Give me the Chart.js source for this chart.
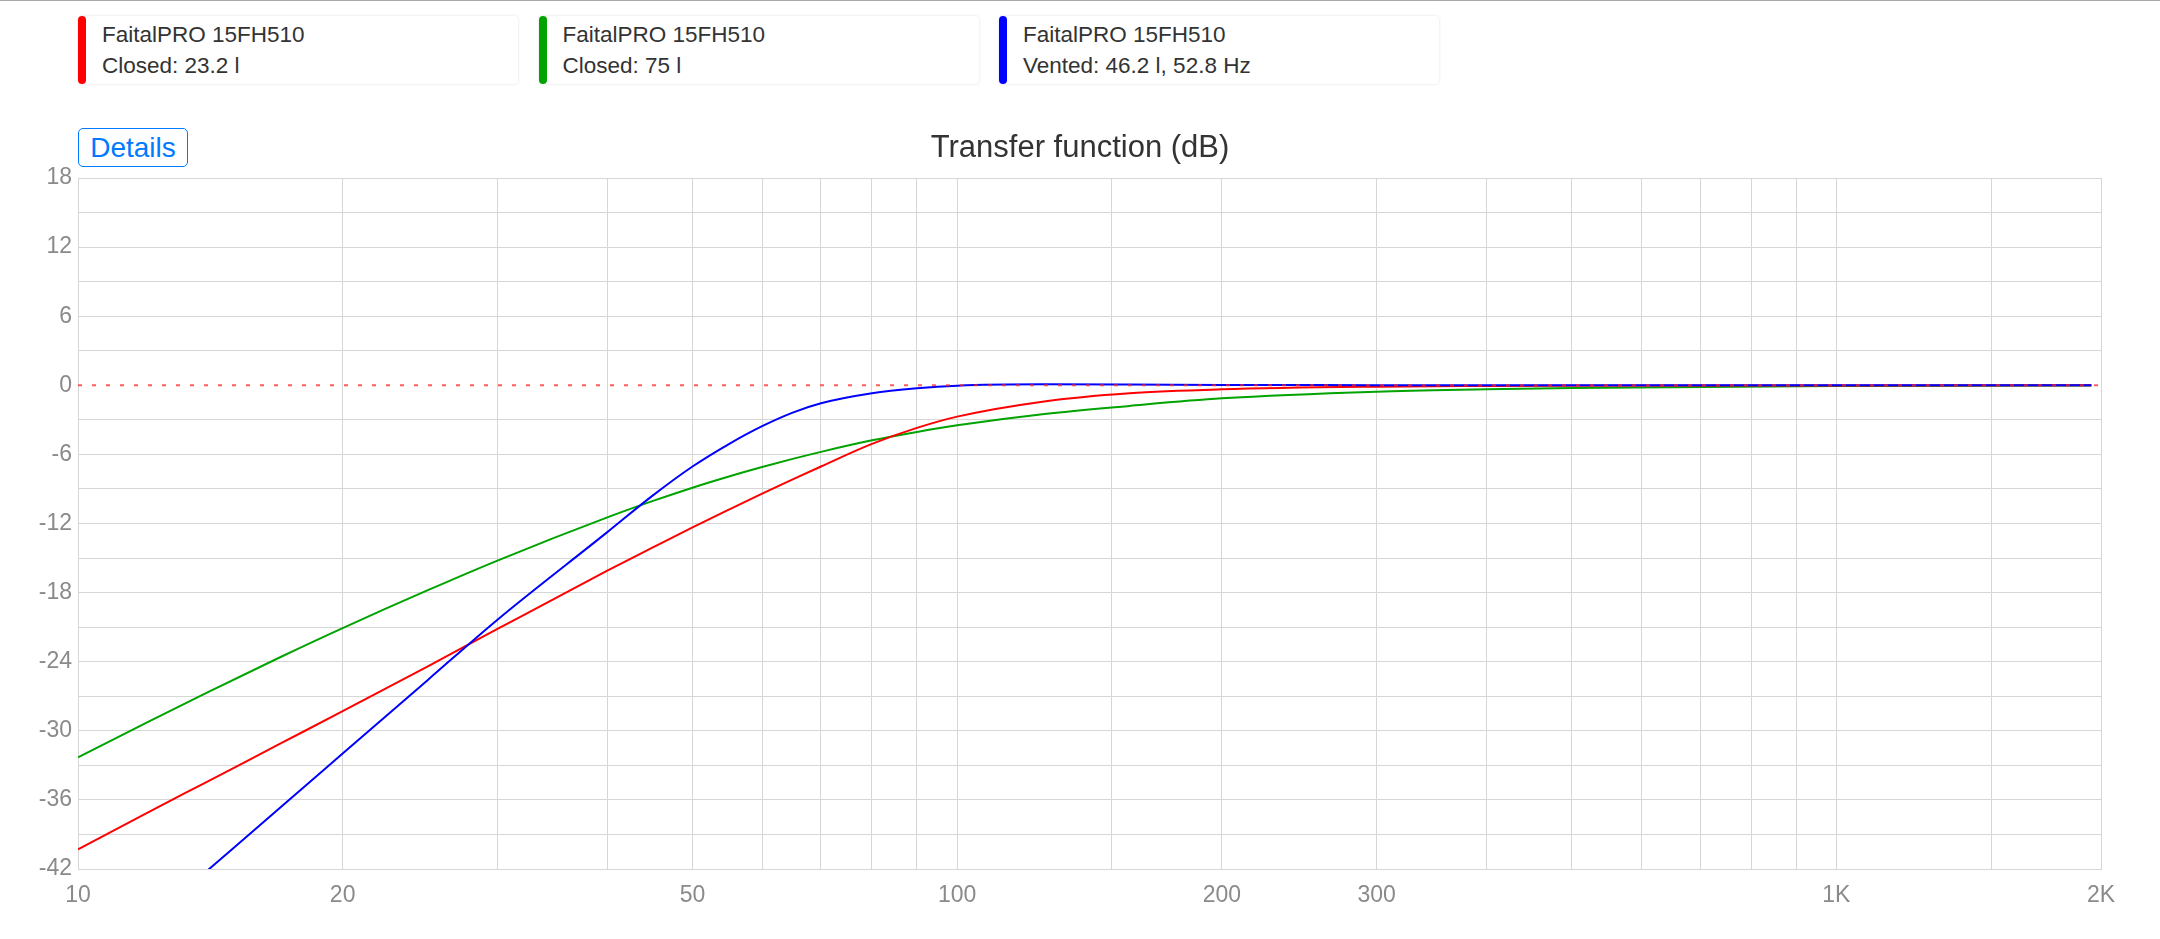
<!DOCTYPE html>
<html>
<head>
<meta charset="utf-8">
<title>Transfer function</title>
<script src="https://cdn.jsdelivr.net/npm/chart.js@4.4.1/dist/chart.umd.min.js"></script>
<style>
  html, body { margin: 0; padding: 0; background: #fff; }
  body { width: 2160px; height: 939px; position: relative; overflow: hidden;
         font-family: 'Liberation Sans', Arial, sans-serif; }
  #topline { position: absolute; left: 0; top: 0; width: 2160px; height: 1px; background: #aaaaaa; }
  .card { position: absolute; top: 16px; width: 440px; height: 68px; background: #fff;
          border-radius: 4px; box-shadow: 0 0 3px rgba(0,0,0,0.13); }
  .card .bar { position: absolute; left: 0; top: 0; width: 8px; height: 100%; border-radius: 4px; }
  .card .txt { position: absolute; left: 24px; top: 3px; font-size: 22.5px; line-height: 31px;
               color: #333; white-space: nowrap; }
  #details { position: absolute; left: 78px; top: 128px; width: 110px; height: 39px; z-index: 2;
             box-sizing: border-box; border: 1px solid #007aff; border-radius: 5px; background: #fff;
             color: #007aff; font: 28px 'Liberation Sans', Arial, sans-serif; padding: 0; text-align: center; }
  #wrap { position: absolute; left: 0; top: 100px; width: 2160px; height: 839px; }
</style>
</head>
<body>
<div id="topline"></div>
<div id="legend"></div>
<button id="details">Details</button>
<div id="wrap"><canvas id="chart"></canvas></div>
<script>
// frequencies (Hz) the curves were read at
const freqs = [10, 12, 14, 17, 20, 25, 30, 40, 45, 50, 55, 60, 65, 70, 80, 90, 100, 125, 157, 200, 300, 400, 500, 1000, 1950];

// transfer function (dB)
const closed23 = [-40.3, -37.1, -34.45, -31.1, -28.3, -24.4, -21.16, -16.1, -14.1, -12.33, -10.79, -9.41, -8.17, -7.05,
                  -5.09, -3.7, -2.72, -1.42, -0.69, -0.35, -0.12, -0.06, -0.03, -0.01, 0];
const closed75 = [-32.3, -29.25, -26.71, -23.59, -21.08, -17.79, -15.22, -11.47, -10.06, -8.89, -7.92, -7.1, -6.39, -5.78,
                  -4.78, -4.05, -3.47, -2.51, -1.79, -1.13, -0.55, -0.35, -0.23, -0.06, -0.02];
const vented46 = [null, null, -42.2, -36.64, -31.98, -25.58, -20.35, -12.75, -9.6, -7.05, -5.1, -3.55, -2.37, -1.56,
                  -0.69, -0.26, -0.03, 0.09, 0.07, 0.03, 0.01, 0, 0, 0, 0];

// 0 dB reference line
const refFreqs = [10, 2000];
const refValues = [0, 0];

const seriesNames = ['FaitalPRO 15FH510', 'FaitalPRO 15FH510', 'FaitalPRO 15FH510'];
const seriesLabels = ['Closed: 23.2 l', 'Closed: 75 l', 'Vented: 46.2 l, 52.8 Hz'];
const seriesColors = ['#ff0000', '#00a300', '#0000ff'];
const xTickLabels = [10, 20, 50, 100, 200, 300, 1000, 2000];
const chartTitle = 'Transfer function (dB)';

const gridColor = '#d6d6d6';
const tickColor = '#8a8a8a';

// legend cards
const legend = document.getElementById('legend');
seriesNames.forEach((name, i) => {
    const card = document.createElement('div');
    card.className = 'card';
    card.style.left = (78 + i * 460.5) + 'px';
    card.innerHTML = '<div class="bar" style="background:' + seriesColors[i] + '"></div>' +
        '<div class="txt">' + name + '<br>' + seriesLabels[i] + '</div>';
    legend.appendChild(card);
});

const toPoints = (xs, ys) => xs.map((x, i) => ({ x: x, y: ys[i] }));

Chart.defaults.font.family = "'Liberation Sans', Arial, sans-serif";

const lineDs = (label, values, color) => ({
    label: label,
    data: toPoints(freqs, values),
    borderColor: color,
    borderWidth: 2,
    pointRadius: 0,
    fill: false,
    cubicInterpolationMode: 'monotone'
});

new Chart(document.getElementById('chart'), {
    type: 'line',
    data: {
        datasets: [
            {
                label: 'ref',
                data: toPoints(refFreqs, refValues),
                borderColor: 'rgba(255,40,40,0.75)',
                borderWidth: 2,
                borderDash: [4, 10],
                pointRadius: 0
            },
            lineDs(seriesLabels[2], vented46, seriesColors[2]),
            lineDs(seriesLabels[0], closed23, seriesColors[0]),
            lineDs(seriesLabels[1], closed75, seriesColors[1])
        ]
    },
    options: {
        responsive: true,
        maintainAspectRatio: false,
        animation: false,
        plugins: {
            legend: { display: false },
            tooltip: { enabled: false },
            title: {
                display: true,
                text: chartTitle,
                color: '#333',
                font: { size: 31, weight: 'normal' },
                padding: { top: 30, bottom: 10.8 }
            }
        },
        scales: {
            x: {
                type: 'logarithmic',
                min: 10,
                max: 2000,
                grid: { color: gridColor, drawTicks: false },
                border: { color: gridColor },
                ticks: {
                    autoSkip: false,
                    maxRotation: 0,
                    padding: 13,
                    color: tickColor,
                    font: { size: 23 },
                    callback: (v) => {
                        const r = Math.round(v);
                        if (!xTickLabels.includes(r)) return '';
                        return r >= 1000 ? (r / 1000) + 'K' : String(r);
                    }
                },
                afterFit: (s) => { s.height = 70; }
            },
            y: {
                type: 'linear',
                min: -42,
                max: 18,
                grid: {
                    color: (ctx) => (ctx.tick && ctx.tick.value === 0) ? 'rgba(0,0,0,0)' : gridColor,
                    drawTicks: false
                },
                border: { color: gridColor },
                ticks: {
                    stepSize: 3,
                    autoSkip: false,
                    padding: 6,
                    color: tickColor,
                    font: { size: 23 },
                    callback: (v) => (v % 6 === 0 ? String(v) : '')
                },
                afterFit: (s) => { s.width = 78; }
            },
            // empty right-hand spacer so the title stays centred on the page
            yRight: {
                position: 'right',
                grid: { display: false, drawTicks: false },
                border: { display: false },
                ticks: { display: false },
                afterFit: (s) => { s.width = 59; }
            }
        }
    }
});
</script>
</body>
</html>
